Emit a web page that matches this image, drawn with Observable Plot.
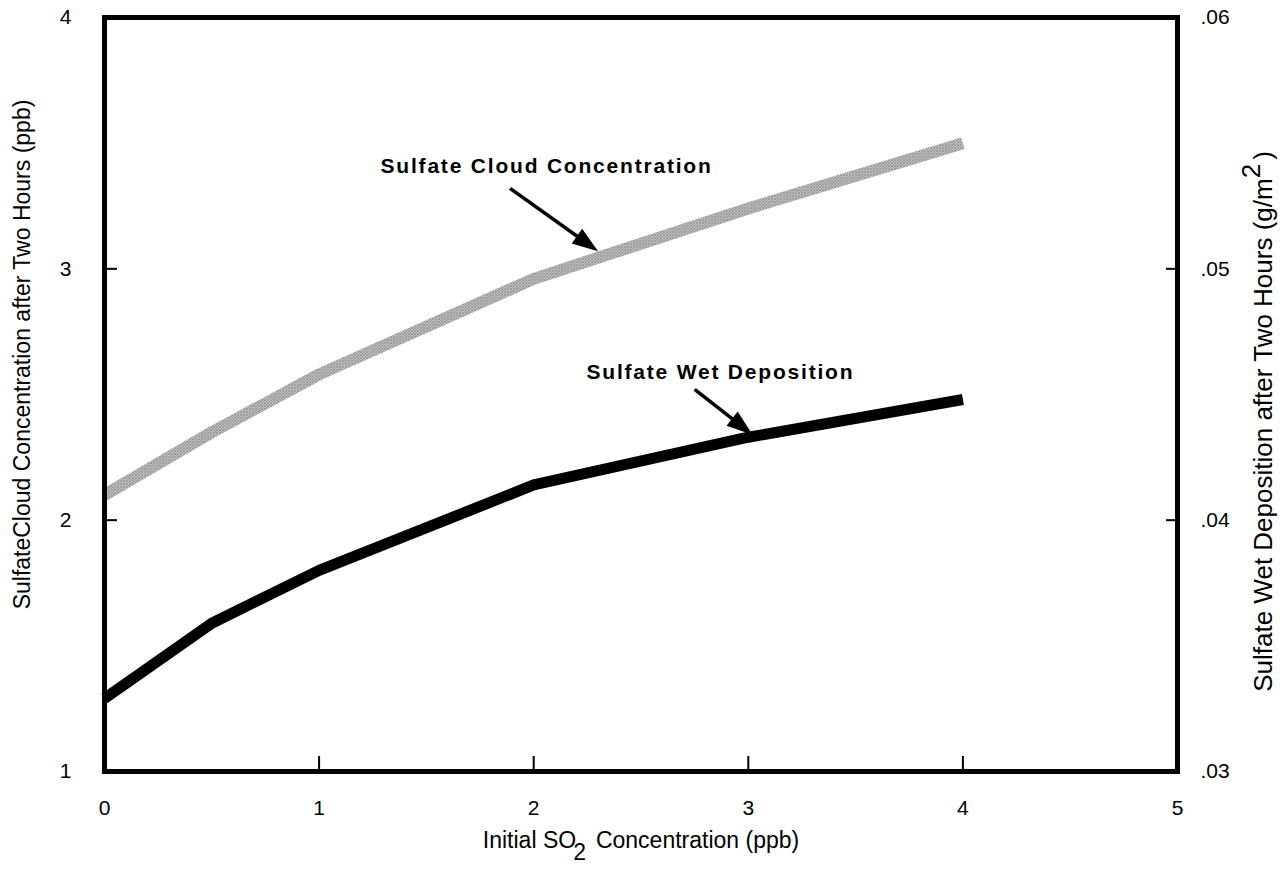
<!DOCTYPE html>
<html><head><meta charset="utf-8">
<script src="https://cdn.jsdelivr.net/npm/d3@7"></script>
<script src="https://cdn.jsdelivr.net/npm/@observablehq/plot@0.6"></script>
<style>
html,body{margin:0;padding:0;background:#fff;}
#chart svg{display:block;font-family:"Liberation Sans",Arial,Helvetica,sans-serif;background:#fff;}
g[font-weight="bold"] text{letter-spacing:1.8px;}
</style></head><body><div id="chart"></div>
<script>
// ---- data ----
const so2 = [0, 0.5, 1, 2, 3, 4];                       // Initial SO2 concentration (ppb)
const cloudConc = [2.10, 2.35, 2.58, 2.96, 3.24, 3.50];  // left axis (ppb)
const wetDep = [0.0329, 0.0359, 0.0380, 0.0414, 0.0433, 0.0448]; // right axis (g/m2)
const xTicks = [0, 1, 2, 3, 4, 5];
const xInnerTicks = [1, 2, 3, 4];
const leftTicks = [1, 2, 3, 4];
const leftInnerTicks = [2, 3];
const rightTickLabels = [".03", ".04", ".05", ".06"];
const rightMin = 0.03, rightStep = 0.01;
const annotations = [
  {label: "Sulfate Cloud Concentration", x: 2.06, y: 3.41, x1: 1.89, y1: 3.32, x2: 2.30, y2: 3.07},
  {label: "Sulfate Wet Deposition", x: 2.87, y: 2.59, x1: 2.75, y1: 2.52, x2: 3.02, y2: 2.34}
];
const xLabel = "Initial SO2 Concentration (ppb)";
const yLabelLeft = "SulfateCloud Concentration after Two Hours (ppb)";
const yLabelRight = "Sulfate Wet Deposition after Two Hours (g/m2)";

// ---- layout ----
const W = 1283, H = 872, ML = 104, MR = 106, MT = 17, MB = 101;
const xs = d3.scaleLinear([0, 5], [ML, W - MR]);
const ys = d3.scaleLinear([1, 4], [H - MB, MT]);

const cloudData = so2.map((x, i) => ({x, y: cloudConc[i]}));
const wetData = so2.map((x, i) => ({x, y: 1 + (wetDep[i] - rightMin) / rightStep}));

const heads = annotations.map(a => {
  const dx = xs(a.x2) - xs(a.x1), dy = ys(a.y2) - ys(a.y1);
  const len = Math.hypot(dx, dy);
  const ex = xs(a.x2) - dx / len * 18, ey = ys(a.y2) - dy / len * 18;
  return {...a, angle: Math.atan2(dx, -dy) * 180 / Math.PI, sx: xs.invert(ex), sy: ys.invert(ey)};
});
const arrowHead = {draw(ctx) { ctx.moveTo(0, 0); ctx.lineTo(-9, 26); ctx.lineTo(9, 26); ctx.closePath(); }};
const blank = () => "";

const plot = Plot.plot({
  width: W, height: H,
  marginLeft: ML, marginRight: MR, marginTop: MT, marginBottom: MB,
  x: {domain: [0, 5], axis: null},
  y: {domain: [1, 4], axis: null},
  style: {fontFamily: '"Liberation Sans", Arial, sans-serif', color: "black"},
  marks: [
    Plot.line(cloudData, {x: "x", y: "y", stroke: "url(#stipple)", strokeWidth: 12, strokeLinecap: "butt", strokeLinejoin: "round"}),
    Plot.line(wetData, {x: "x", y: "y", stroke: "black", strokeWidth: 11, strokeLinecap: "butt", strokeLinejoin: "round"}),
    Plot.link(heads, {x1: "x1", y1: "y1", x2: "sx", y2: "sy", stroke: "black", strokeWidth: 3.5}),
    Plot.dot(heads, {x: "x2", y: "y2", symbol: arrowHead, r: 5, rotate: "angle", fill: "black", stroke: "none"}),
    Plot.text(annotations, {x: "x", y: "y", text: "label", fontSize: 21, fontWeight: "bold", fill: "black"}),
    Plot.axisX(xInnerTicks, {anchor: "bottom", tickSize: -15, strokeWidth: 2, tickFormat: blank, label: null}),
    Plot.axisX(xTicks, {anchor: "bottom", tickSize: 0, tickPadding: 29, fontSize: 21, tickFormat: d => String(d), label: null}),
    Plot.axisY(leftInnerTicks, {anchor: "left", tickSize: -13, strokeWidth: 2, tickFormat: blank, label: null}),
    Plot.axisY(leftTicks, {anchor: "left", tickSize: 0, tickPadding: 33, fontSize: 21, tickFormat: d => String(d), label: null}),
    Plot.axisY(leftInnerTicks, {anchor: "right", tickSize: -12, strokeWidth: 2, tickFormat: blank, label: null}),
    Plot.axisY(leftTicks, {anchor: "right", tickSize: 0, tickPadding: 23, fontSize: 21, tickFormat: d => rightTickLabels[leftTicks.indexOf(d)], label: null}),
    Plot.text([xLabel], {frameAnchor: "bottom", textAnchor: "middle", lineAnchor: "bottom", dy: 76, fontSize: 23, fill: "black"}),
    Plot.text([yLabelLeft], {frameAnchor: "left", textAnchor: "middle", dx: -82, dy: -40, rotate: -90, fontSize: 23, fill: "black"}),
    Plot.text([yLabelRight], {frameAnchor: "right", textAnchor: "middle", dx: 86, dy: 27, rotate: -90, fontSize: 26, fill: "black"}),
    Plot.frame({stroke: "black", strokeWidth: 5})
  ]
});

// stipple pattern for the grey line
const svg = d3.select(plot.tagName.toLowerCase() === "svg" ? plot : plot.querySelector("svg"));
const defs = svg.insert("defs", ":first-child");
const pat = defs.append("pattern").attr("id", "stipple").attr("patternUnits", "userSpaceOnUse")
  .attr("width", 3).attr("height", 3);
pat.append("rect").attr("width", 3).attr("height", 3).attr("fill", "#fff");
pat.append("rect").attr("x", 0).attr("y", 0).attr("width", 1.3).attr("height", 1.3).attr("fill", "#222");
pat.append("rect").attr("x", 1.5).attr("y", 1.5).attr("width", 1.3).attr("height", 1.3).attr("fill", "#222");

// subscript / superscript
svg.selectAll("text").each(function() {
  const t = d3.select(this);
  if (this.textContent === xLabel) {
    t.text("Initial SO");
    t.append("tspan").attr("dx", -3).attr("dy", 12).text("2");
    t.append("tspan").attr("dx", 10).attr("dy", -12).text("Concentration (ppb)");
  } else if (this.textContent === yLabelRight) {
    t.text("Sulfate Wet Deposition after Two Hours (g/m");
    t.append("tspan").attr("dy", -12).text("2");
    t.append("tspan").attr("dy", 12).attr("dx", 4).text(")");
  }
});

document.getElementById("chart").appendChild(plot);
</script></body></html>
